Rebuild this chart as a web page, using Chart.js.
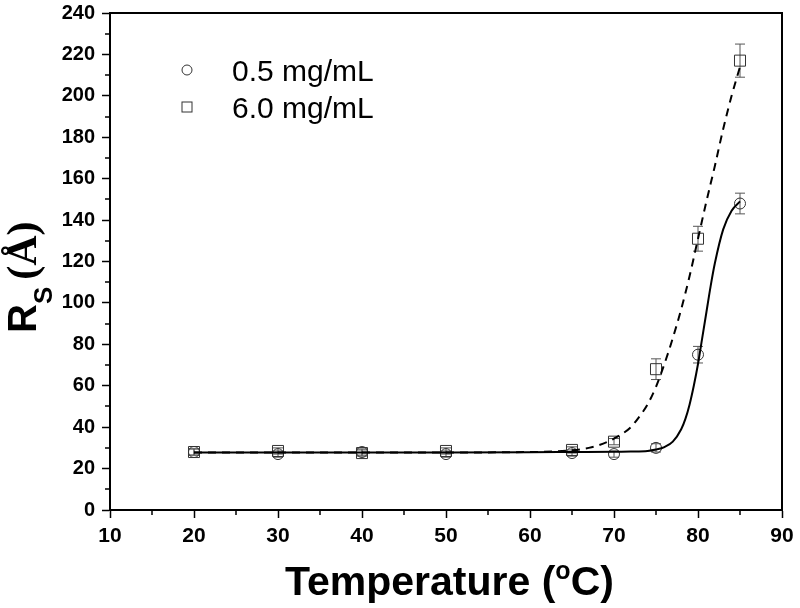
<!DOCTYPE html>
<html>
<head>
<meta charset="utf-8">
<script src="https://cdn.jsdelivr.net/npm/chart.js@4/dist/chart.umd.min.js"></script>
<style>
  html, body { margin: 0; padding: 0; background: #fff; }
  #wrap { width: 800px; height: 608px; }
</style>
</head>
<body>
<div id="wrap"><canvas id="rs_chart" width="800" height="608"></canvas></div>
<script>
// measured temperatures (C)
const temps = [20, 30, 40, 50, 65, 70, 75, 80, 85];
// Rs (A) for 0.5 mg/mL and 6.0 mg/mL, with error bars
const rs05 = [28, 27, 28, 27, 27.5, 27, 30, 75, 148];
const err05 = [1.5, 1.5, 1.5, 1.5, 1.5, 1.5, 2, 4, 5];
const rs60 = [28, 28.5, 27.5, 28.5, 29, 33, 68, 131, 217];
const err60 = [1.5, 1.5, 1.5, 1.5, 1.5, 1.5, 5, 6, 8];

// fitted curves
const fit05X = [20, 30, 40, 50, 60, 65, 70, 72, 74, 75, 76, 77, 78, 78.5, 79, 79.5, 80, 80.5, 81, 81.5, 82, 83, 84, 85];
const fit05Y = [27.8, 27.8, 27.8, 27.8, 27.9, 28, 28.1, 28.2, 28.5, 29.2, 30.4, 33, 39, 44, 51, 60, 70.5, 83, 95.5, 108, 119, 135.5, 144.5, 149];
const fit60X = [20, 30, 40, 50, 60, 65, 67, 68, 70, 72, 73, 74, 75, 76, 77, 78, 79, 80, 81, 82, 83, 84, 85];
const fit60Y = [27.8, 27.8, 27.8, 27.8, 28, 28.8, 30, 31, 34.5, 40, 45, 51, 59.5, 70.5, 83, 97, 113, 131, 149, 166, 184, 200, 214];

const xTicksMinor = [15, 25, 35, 45, 55, 65, 75, 85];
const yTicksMinor = [10, 30, 50, 70, 90, 110, 130, 150, 170, 190, 210, 230];

const FONT = "'Liberation Sans', Arial, sans-serif";
const SERIF = "'Liberation Serif', 'Times New Roman', serif";

function toPoints(xs, ys) {
  let pts = [];
  for (let i = 0; i < xs.length; i++) pts.push({ x: xs[i], y: ys[i] });
  return pts;
}

const decor = {
  id: "decor",
  beforeDatasetsDraw(chart) {
    const ctx = chart.ctx;
    const xs = chart.scales.x;
    const ys = chart.scales.y;
    ctx.save();
    ctx.strokeStyle = "#555";
    ctx.lineWidth = 1;
    const sets = [[rs05, err05], [rs60, err60]];
    for (let s of sets) {
      for (let i = 0; i < temps.length; i++) {
        let px = xs.getPixelForValue(temps[i]);
        let top = ys.getPixelForValue(s[0][i] + s[1][i]);
        let bot = ys.getPixelForValue(s[0][i] - s[1][i]);
        ctx.beginPath();
        ctx.moveTo(px, top); ctx.lineTo(px, bot);
        ctx.moveTo(px - 5, top); ctx.lineTo(px + 5, top);
        ctx.moveTo(px - 5, bot); ctx.lineTo(px + 5, bot);
        ctx.stroke();
      }
    }
    ctx.restore();
  },
  afterDraw(chart) {
    const ctx = chart.ctx;
    const a = chart.chartArea;
    const xs = chart.scales.x;
    const ys = chart.scales.y;
    ctx.save();

    // box: top and right edges
    ctx.strokeStyle = "#000";
    ctx.lineWidth = 2;
    ctx.beginPath();
    ctx.moveTo(a.left, a.top); ctx.lineTo(a.right, a.top); ctx.lineTo(a.right, a.bottom);
    ctx.stroke();

    // minor ticks
    ctx.lineWidth = 1.5;
    ctx.beginPath();
    for (let v of xTicksMinor) {
      let px = Math.round(xs.getPixelForValue(v));
      ctx.moveTo(px, a.bottom); ctx.lineTo(px, a.bottom + 5);
    }
    for (let v of yTicksMinor) {
      let py = Math.round(ys.getPixelForValue(v));
      ctx.moveTo(a.left, py); ctx.lineTo(a.left - 5, py);
    }
    ctx.stroke();

    // legend
    ctx.strokeStyle = "#333";
    ctx.lineWidth = 1;
    ctx.beginPath();
    ctx.arc(187, 70, 5, 0, Math.PI * 2);
    ctx.stroke();
    ctx.strokeRect(182, 102, 10, 10);
    ctx.fillStyle = "#000";
    ctx.font = "30px " + FONT;
    ctx.textBaseline = "alphabetic";
    ctx.textAlign = "left";
    ctx.fillText(chart.data.datasets[2].label, 232, 81);
    ctx.fillText(chart.data.datasets[3].label, 232, 118);

    // x title with superscript o
    ctx.font = "bold 41px " + FONT;
    let p1 = "Temperature (";
    let w1 = ctx.measureText(p1).width;
    ctx.font = "bold 25px " + FONT;
    let wo = ctx.measureText("o").width;
    let x0 = 285;
    ctx.font = "bold 41px " + FONT;
    ctx.fillText(p1, x0, 595);
    ctx.font = "bold 25px " + FONT;
    ctx.fillText("o", x0 + w1, 579);
    ctx.font = "bold 41px " + FONT;
    ctx.fillText("C)", x0 + w1 + wo, 595);

    // y title with subscript S
    ctx.translate(36, 333);
    ctx.rotate(-Math.PI / 2);
    ctx.font = "bold 40px " + FONT;
    ctx.fillText("R", 0, 0);
    let wr = ctx.measureText("R").width;
    ctx.font = "bold 26px " + FONT;
    ctx.fillText("S", wr, 16);
    let ws = ctx.measureText("S").width;
    ctx.font = "bold 42px " + SERIF;
    ctx.fillText("(\u00C5)", wr + ws + 7, 0);

    ctx.restore();
  },
};

new Chart(document.getElementById("rs_chart").getContext("2d"), {
  type: "scatter",
  data: {
    datasets: [
      {
        label: "fit 0.5",
        data: toPoints(fit05X, fit05Y),
        showLine: true,
        borderColor: "#000",
        borderWidth: 2,
        pointRadius: 0,
        cubicInterpolationMode: "monotone",
        fill: false,
      },
      {
        label: "fit 6.0",
        data: toPoints(fit60X, fit60Y),
        showLine: true,
        borderColor: "#000",
        borderWidth: 2,
        borderDash: [8, 6],
        pointRadius: 0,
        cubicInterpolationMode: "monotone",
        fill: false,
      },
      {
        label: "0.5 mg/mL",
        data: toPoints(temps, rs05),
        showLine: false,
        pointStyle: "circle",
        pointRadius: 5.5,
        borderColor: "#333",
        borderWidth: 1,
        backgroundColor: "rgba(0,0,0,0)",
      },
      {
        label: "6.0 mg/mL",
        data: toPoints(temps, rs60),
        showLine: false,
        pointStyle: "rect",
        pointRadius: 7.8,
        borderColor: "#333",
        borderWidth: 1,
        backgroundColor: "rgba(0,0,0,0)",
      },
    ],
  },
  options: {
    responsive: false,
    animation: false,
    layout: { padding: { top: 13, right: 18, left: 0, bottom: 0 } },
    plugins: {
      legend: { display: false },
      tooltip: { enabled: false },
    },
    scales: {
      x: {
        type: "linear",
        min: 10,
        max: 90,
        afterFit: (s) => { s.height = 98; s.paddingLeft = 0; s.paddingRight = 0; },
        ticks: {
          stepSize: 10,
          color: "#000",
          padding: 6,
          maxRotation: 0,
          font: { family: FONT, size: 21, weight: "bold" },
        },
        grid: { drawOnChartArea: false, tickLength: 8, tickColor: "#000", tickWidth: 1.5 },
        border: { color: "#000", width: 2 },
      },
      y: {
        min: 0,
        max: 240,
        afterFit: (s) => { s.width = 110; s.paddingTop = 0; s.paddingBottom = 0; },
        ticks: {
          stepSize: 20,
          color: "#000",
          padding: 7,
          font: { family: FONT, size: 20, weight: "bold" },
        },
        grid: { drawOnChartArea: false, tickLength: 8, tickColor: "#000", tickWidth: 1.5 },
        border: { color: "#000", width: 2 },
      },
    },
  },
  plugins: [decor],
});
</script>
</body>
</html>
